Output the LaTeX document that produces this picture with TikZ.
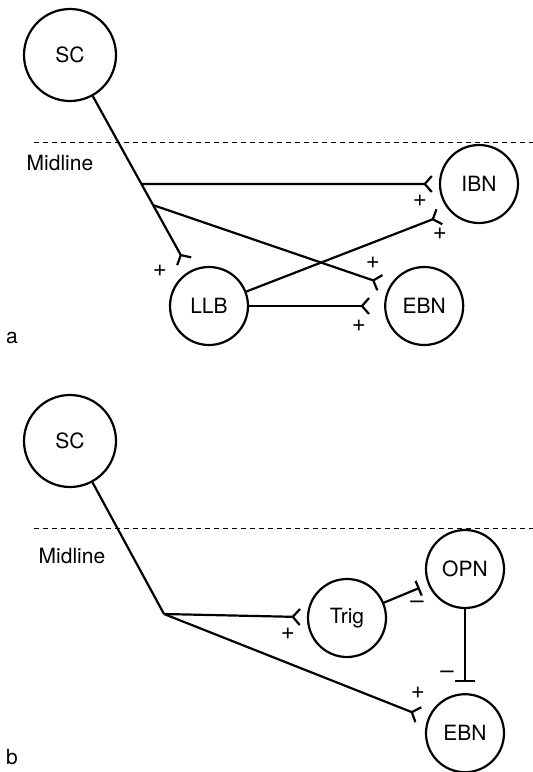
\documentclass[tikz,border=0pt]{standalone}
\usepackage{fontspec}
\setmainfont{TeX Gyre Heros}
\usepackage{tikz}
\usetikzlibrary{positioning,arrows.meta,calc}

\begin{document}
\begin{tikzpicture}[
  x=0.5pt, y=-0.5pt,
  font=\fontsize{10.5}{12}\selectfont,
  cell/.style={draw, circle, line width=1.1pt, minimum size=39pt, inner sep=0pt},
  big/.style={cell, minimum size=46pt},
  exc/.style={line width=1.1pt, -{Straight Barb[reversed, length=3.5pt, width=8pt]}, shorten >=3pt},
  inh/.style={line width=1.1pt, -{Bar[width=8pt]}, shorten >=4pt},
  mid/.style={dash pattern=on 2.5pt off 2pt, line width=0.5pt},
  sgn/.style={inner sep=0pt, font=\fontsize{12}{14}\selectfont}
]
\useasboundingbox (0,0) rectangle (533,772);
% panel a
\node[big] (sca) at (70,55) {SC};
\node[cell] (llb) at (209,306) {LLB};
\node[cell, right=67.5pt of llb] (ebna) {EBN};
\node[cell] (ibn) at (479,184) {IBN};
\draw[mid] (34,142) -- (533,142);
\node (mla) at (60,163) {Midline};
\node (pa) at (12,338) {a};
\coordinate (ja1) at ($(sca)!0.514!(llb)$);
\coordinate (ja2) at ($(sca)!0.598!(llb)$);
\draw[exc, shorten >=5pt] (sca) -- (llb);
\draw[exc, shorten >=3pt] (ja1) -- (ibn);
\draw[exc, shorten >=4.5pt] (ja2) -- (ebna.150);
\draw[exc, shorten >=5.5pt] (llb) -- (ibn.225);
\draw[exc, shorten >=7pt] (llb) -- (ebna);
\node[sgn] (s1) at (160,271) {+};
\node[sgn] (s2) at (420,201) {+};
\node[sgn] (s3) at (440,234) {+};
\node[sgn] (s4) at (373,263) {+};
\node[sgn] (s5) at (359,326) {+};
% panel b
\node[big] (scb) at (70,441) {SC};
\node[cell] (trig) at (347,618) {Trig};
\node[cell] (opn) at (465,569) {OPN};
\node[cell, below=42pt of opn] (ebnb) {EBN};
\draw[mid] (34,528) -- (533,528);
\node (mlb) at (72,556) {Midline};
\node (pb) at (12,757) {b};
\coordinate (jb) at (164,614);
\draw[line width=1.1pt] (scb) -- (jb);
\draw[exc] (jb) -- (trig);
\draw[exc, shorten >=4.5pt] (jb) -- (ebnb);
\draw[inh, shorten >=4.5pt] (trig) -- (opn);
\draw[inh, -{Bar[width=10pt]}, shorten >=5.5pt] (opn) -- (ebnb);
\node[sgn] (s6) at (288,634) {+};
\node[sgn] (s7) at (418,693) {+};
\node[sgn] (s8) at (417,605) {–};
\node[sgn] (s9) at (447,675) {–};
\end{tikzpicture}
\end{document}
